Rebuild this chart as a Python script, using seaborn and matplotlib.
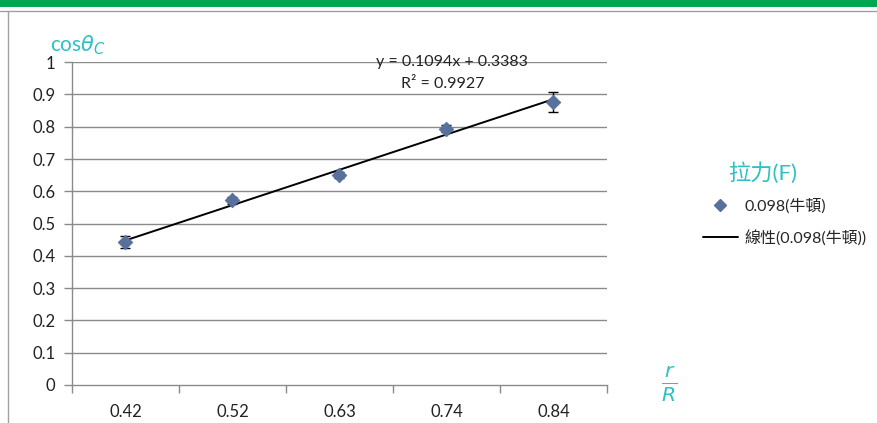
import numpy as np
import pandas as pd
import matplotlib
matplotlib.use("Agg")
import matplotlib.pyplot as plt
from matplotlib.lines import Line2D
import seaborn as sns

# ======================================================
# Data
# ======================================================

ratios = ["0.42", "0.52", "0.63", "0.74", "0.84"]
cos_values = [0.443, 0.572, 0.650, 0.794, 0.877]
cos_errors = [0.018, 0.010, 0.010, 0.010, 0.031]

slope = 0.1094
intercept = 0.3383
r_squared = 0.9927

series_label = "0.098(牛頓)"
trend_label = "線性(0.098(牛頓))"
legend_title = "拉力(F)"

# ======================================================
# Style
# ======================================================

sns.set_style("white")
plt.rcParams["font.family"] = ["Lato", "Noto Sans CJK TC", "DejaVu Sans"]
plt.rcParams["mathtext.fontset"] = "dejavusans"

teal = "#2fc0c4"
point_color = "#58709c"
grid_color = "#8a8a8a"

data = pd.DataFrame({"ratio": ratios, "cos": cos_values, "err": cos_errors})

fig = plt.figure(figsize=(8.77, 4.23), dpi=100)
ax = fig.add_axes([0.082, 0.090, 0.610, 0.763])

# horizontal grid lines
for yv in np.arange(0.1, 1.01, 0.1):
    ax.axhline(yv, color=grid_color, lw=1.0, zorder=0)

# trend line (Excel category index 1..5)
idx = np.arange(1, len(ratios) + 1)
trend = pd.DataFrame({"pos": idx - 1, "fit": slope * idx + intercept})
sns.lineplot(data=trend, x="pos", y="fit", color="black", lw=1.4, ax=ax, zorder=3)

# error bars + points
ax.errorbar(np.arange(len(ratios)), data["cos"], yerr=data["err"], fmt="none",
            ecolor="black", elinewidth=1.0, capsize=3.5, capthick=1.0, zorder=4)
sns.scatterplot(data=data, x=np.arange(len(ratios)), y="cos", marker="D", s=55,
                color=point_color, edgecolor=point_color, ax=ax, zorder=5)

ax.set_xlim(-0.5, len(ratios) - 0.5)
ax.set_ylim(0, 1)

# y axis
ax.set_yticks(np.arange(0, 1.01, 0.1))
ax.set_yticklabels(["0"] + [f"{v:.1f}" for v in np.arange(0.1, 0.95, 0.1)] + ["1"])
ax.tick_params(axis="y", length=6, width=1, color=grid_color, labelsize=12, pad=6,
               labelcolor="#222222", left=True)

# x axis: tick marks between categories, labels at centres
ax.set_xticks(np.arange(-0.5, len(ratios), 1.0))
ax.set_xticklabels([])
ax.tick_params(axis="x", which="major", length=6, width=1, color=grid_color, bottom=True)
ax.set_xticks(np.arange(len(ratios)), ratios, minor=True)
ax.tick_params(axis="x", which="minor", length=0, labelsize=12, pad=14, labelcolor="#222222")
ax.set_xlabel("")
ax.set_ylabel("")

for side in ["top", "right"]:
    ax.spines[side].set_visible(False)
for side in ["left", "bottom"]:
    ax.spines[side].set_color(grid_color)
    ax.spines[side].set_linewidth(1.0)

# equation text
ax.text(3.05, 1.0, f"y = {slope}x + {intercept}", ha="center", va="center",
        fontsize=11.5, color="#222222", zorder=6)
ax.text(2.97, 0.932, f"R² = {r_squared}", ha="center", va="center",
        fontsize=11.5, color="#222222", zorder=6)

# axis titles
fig.text(0.057, 0.893, r"cos$\theta_C$", color=teal, fontsize=15, va="center")
fig.text(0.763, 0.092, r"$\frac{r}{R}$", color=teal, fontsize=21, ha="center", va="center")

# legend
fig.text(0.830, 0.591, legend_title, color=teal, fontsize=16, ha="left", va="center")
handles = [
    Line2D([], [], marker="D", ls="none", color=point_color, markersize=6),
    Line2D([], [], color="black", lw=1.4),
]
fig.legend(handles, [series_label, trend_label],
           loc="upper left", bbox_to_anchor=(0.785, 0.566), frameon=False,
           fontsize=11.5, handlelength=2.2, handletextpad=0.4, labelspacing=1.05)

# page decoration: green band and gray frame
fig.add_artist(Line2D([0, 1], [0.993, 0.993], color="#00a651", lw=5, transform=fig.transFigure))
fig.add_artist(Line2D([0, 1], [0.974, 0.974], color="#a0a0a0", lw=1, transform=fig.transFigure))
fig.add_artist(Line2D([0.009, 0.009], [0, 0.974], color="#a0a0a0", lw=1, transform=fig.transFigure))

fig.savefig("out.png", dpi=100)
